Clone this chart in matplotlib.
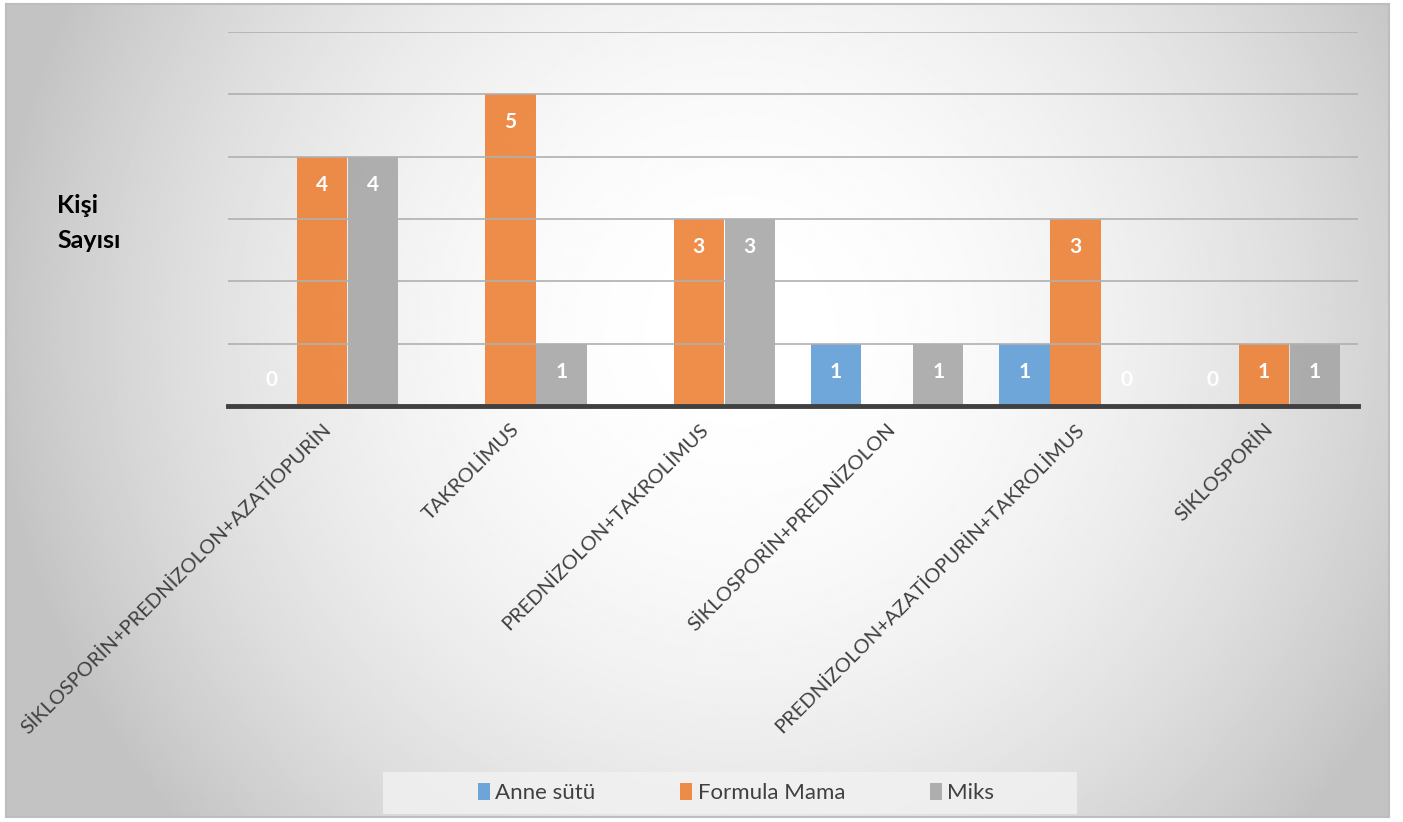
import numpy as np
import matplotlib
matplotlib.use("Agg")
import matplotlib.pyplot as plt
from matplotlib.patches import Rectangle, Patch

plt.rcParams['font.family'] = ['Lato', 'DejaVu Sans']

# data
categories = ["SİKLOSPORİN+PREDNİZOLON+AZATİOPURİN", "TAKROLİMUS",
              "PREDNİZOLON+TAKROLİMUS", "SİKLOSPORİN+PREDNİZOLON",
              "PREDNİZOLON+AZATİOPURİN+TAKROLİMUS", "SİKLOSPORİN"]
series_names = ["Anne sütü", "Formula Mama", "Miks"]
anne_sutu = [0, None, None, 1, 1, 0]
formula_mama = [4, 5, 3, None, 3, 1]
miks = [4, 1, 3, 1, 0, 1]
colors = ["#5B9BD5", "#ED7D31", "#A5A5A5"]

W, H = 1403, 822
fig = plt.figure(figsize=(W / 100, H / 100), dpi=100)

# background panel with radial gradient (pixel grid of the panel)
px0, py0, px1, py1 = 6, 4, 1389, 817
bg = fig.add_axes([px0 / W, 1 - py1 / H, (px1 - px0) / W, (py1 - py0) / H], zorder=-5)
yy, xx = np.mgrid[py0:py1:2, px0:px1:2]
d = np.sqrt(((xx - 740) / 750.0) ** 2 + ((yy - 330) / 750.0) ** 2)
shade = 1 - 0.235 * np.clip(d, 0, 1) ** 2
bg.imshow(shade, cmap='gray', vmin=0, vmax=1, aspect='auto', interpolation='bilinear')
bg.set_xticks([])
bg.set_yticks([])
for s in bg.spines.values():
    s.set_color('#bdbdbd')
    s.set_linewidth(1.5)

ax = fig.add_axes([228 / W, 1 - 406 / H, (1358 - 228) / W, (406 - 32) / H])
ax.patch.set_alpha(0)

x = np.arange(len(categories))
width = 0.266
offsets = [-0.271, 0, 0.271]
for vals, off, col in zip([anne_sutu, formula_mama, miks], offsets, colors):
    for xi, v in zip(x, vals):
        if v is None:
            continue
        ax.bar(xi + off, v, width, color=col, alpha=0.88, zorder=2)
        ly = v - 0.45 if v > 0 else 0.42
        ax.text(xi + off, ly, str(v), ha='center', va='center', color='white',
                fontsize=15, fontweight='bold', zorder=4)

ax.set_xlim(-0.5, len(categories) - 0.5)
ax.set_ylim(0, 6)
ax.set_yticks(range(1, 7))
ax.yaxis.grid(True, color='#b0b0b0', linewidth=1.2, zorder=3)
ax.set_axisbelow(False)
ax.tick_params(axis='y', left=False, labelleft=False)
ax.tick_params(axis='x', bottom=False, pad=7)
for s in ['top', 'right', 'left']:
    ax.spines[s].set_visible(False)
ax.spines['bottom'].set_color('#404040')
ax.spines['bottom'].set_linewidth(3.5)
ax.spines['bottom'].set_zorder(5)

ax.set_xticks(x)
ax.set_xticklabels(categories, rotation=45, ha='right', rotation_mode='anchor',
                   fontsize=14.5, color='#404040')

fig.text(57 / W, 1 - 223 / H, "Kişi\nSayısı", ha='left', va='center',
         fontsize=18, fontweight='bold', color='black', linespacing=1.65)

# legend
fig.patches.append(Rectangle((383 / W, 1 - 814 / H), (1077 - 383) / W, 42 / H,
                             transform=fig.transFigure, facecolor='#f2f2f2',
                             edgecolor='none', alpha=0.8, zorder=0))
handles = [Patch(facecolor=c, alpha=0.88) for c in colors]
fig.legend(handles, series_names, loc='center', bbox_to_anchor=(736 / W, 1 - 793 / H),
           ncol=3, frameon=False, fontsize=16, handlelength=0.55, handleheight=0.85,
           handletextpad=0.25, columnspacing=3.8, labelcolor='#404040')

fig.savefig("out.png", dpi=100)
